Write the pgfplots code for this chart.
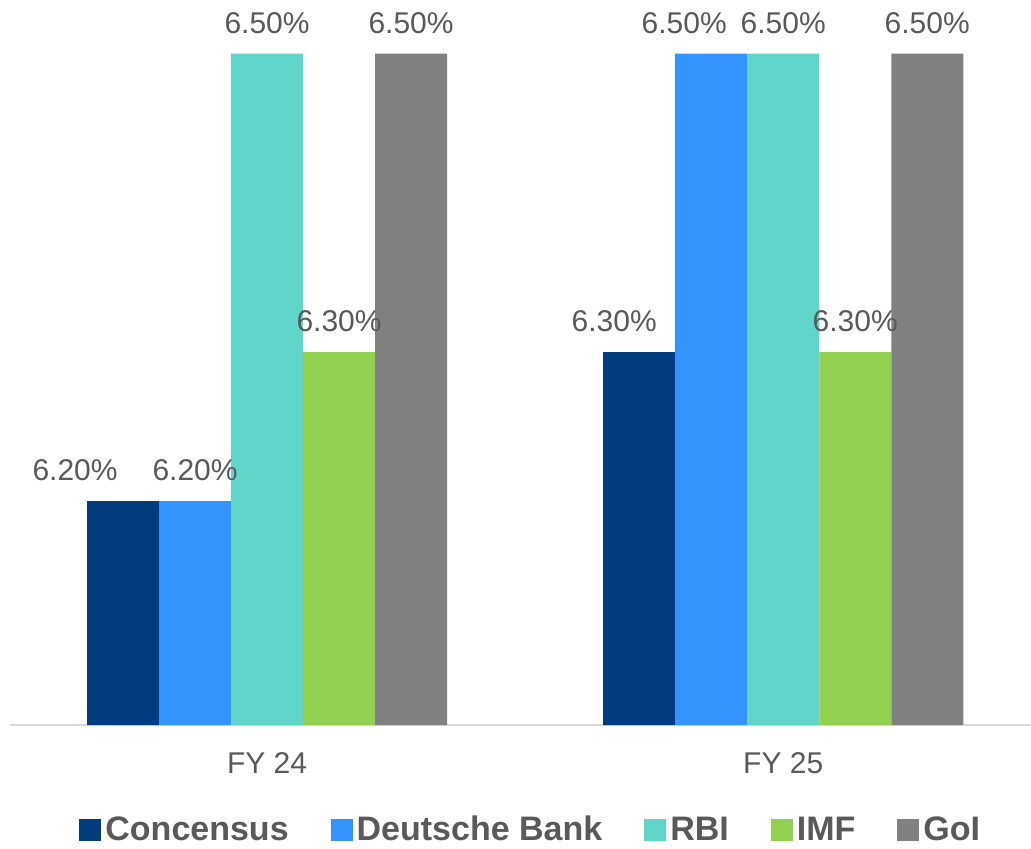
\documentclass[border=0pt]{standalone}
\usepackage{pgfplots}
\pgfplotsset{compat=1.18}
\usepackage{fontspec}
\setmainfont{Liberation Sans}
\definecolor{cA}{HTML}{023C7C}
\definecolor{cB}{HTML}{3393FF}
\definecolor{cC}{HTML}{5FD6C9}
\definecolor{cD}{HTML}{92D050}
\definecolor{cE}{HTML}{808080}
\definecolor{txt}{HTML}{595959}
\definecolor{axl}{HTML}{D9D9D9}
\begin{document}
\begin{tikzpicture}
\begin{axis}[
  scale only axis,
  width=510.5pt, height=362.5pt,
  ybar=0pt, bar width=36pt,
  xmin=-0.498, xmax=1.48,
  ymin=6.05, ymax=6.536,
  axis x line*=bottom,
  axis y line=none,
  x axis line style={axl, line width=1pt, -},
  xtick={0,1}, xticklabels={FY 24, FY 25},
  xtick style={draw=none},
  xticklabel style={font=\fontsize{15}{18}\selectfont, text=txt, yshift=-6pt},
  /pgf/number format/assume math mode=true,
  visualization depends on={\thisrow{xs}\as\xs},
  nodes near coords={\pgfmathprintnumber[fixed,fixed zerofill,precision=2]{\pgfplotspointmeta}\%},
  nodes near coords style={font=\fontsize{15}{18}\selectfont, text=txt, yshift=6.5pt, xshift=\xs pt},
  legend columns=5,
  legend style={at={(0.511,-0.145)}, anchor=center, draw=none, fill=none,
    font=\fontsize{17}{20}\selectfont\bfseries, text=txt,
    /tikz/every even column/.append style={column sep=19pt}},
  legend image code/.code={\fill[#1] (0pt,-5.5pt) rectangle (11pt,5.5pt);},
]
\addplot[fill=cA, draw=none] table[x=x,y=y] {
x y xs
0 6.2 -24
1 6.3 -12.5
};
\addplot[fill=cB, draw=none] table[x=x,y=y] {
x y xs
0 6.2 0
1 6.5 -13.5
};
\addplot[fill=cC, draw=none] table[x=x,y=y] {
x y xs
0 6.5 0
1 6.5 0
};
\addplot[fill=cD, draw=none] table[x=x,y=y] {
x y xs
0 6.3 0
1 6.3 0
};
\addplot[fill=cE, draw=none] table[x=x,y=y] {
x y xs
0 6.5 0
1 6.5 0
};
\legend{Concensus, Deutsche Bank, RBI, IMF, GoI}
\end{axis}
\pgfresetboundingbox
\path[use as bounding box] (-5pt,-61.5pt) rectangle (510.5pt,362.5pt);
\end{tikzpicture}
\end{document}
